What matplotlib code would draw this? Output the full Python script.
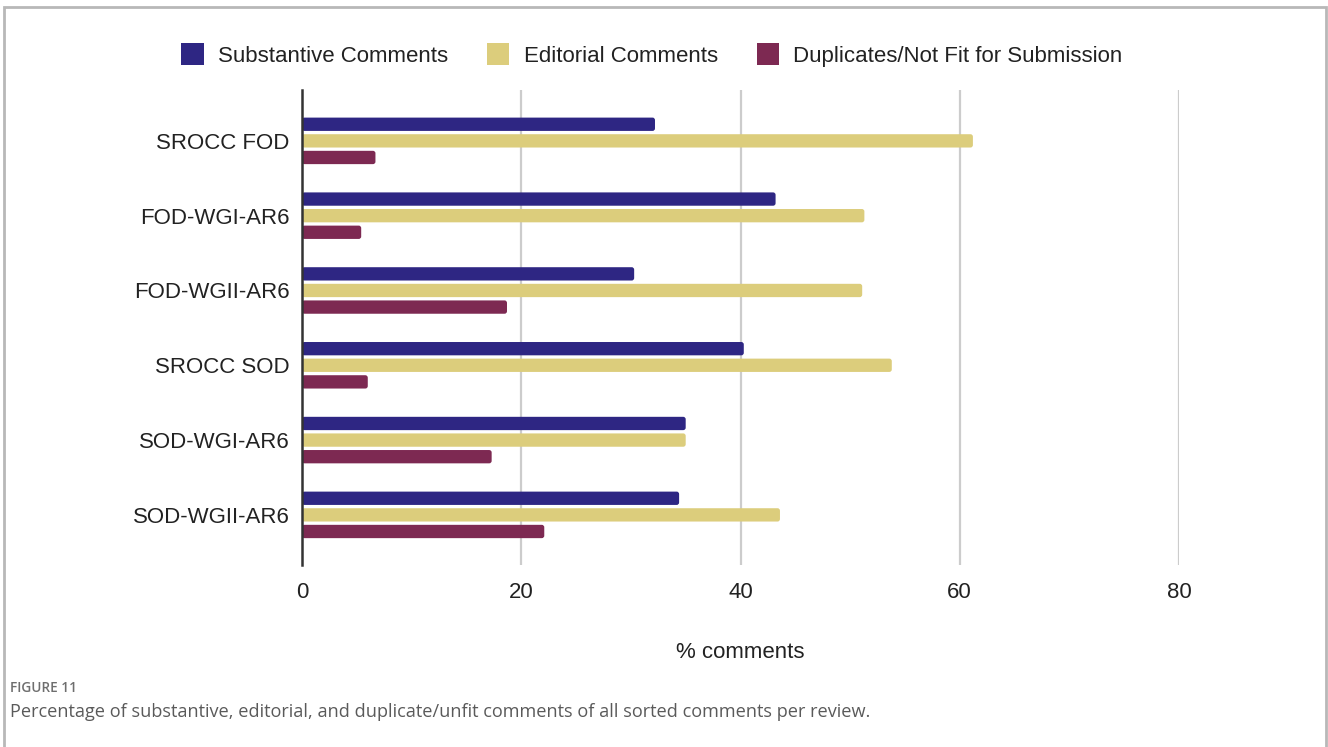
import matplotlib
matplotlib.use("Agg")
import matplotlib.pyplot as plt
import numpy as np
from matplotlib.patches import Rectangle, FancyBboxPatch

categories = ["SROCC FOD", "FOD-WGI-AR6", "FOD-WGII-AR6", "SROCC SOD", "SOD-WGI-AR6", "SOD-WGII-AR6"]
substantive = [32.2, 43.2, 30.3, 40.3, 35.0, 34.4]
editorial = [61.2, 51.3, 51.1, 53.8, 35.0, 43.6]
duplicates = [6.7, 5.4, 18.7, 6.0, 17.3, 22.1]
series_names = ["Substantive Comments", "Editorial Comments", "Duplicates/Not Fit for Submission"]
colors = ["#2e2683", "#dccd7c", "#7d2952"]
xticks = [0, 20, 40, 60, 80]

W, H = 1328, 747
fig = plt.figure(figsize=(W / 100, H / 100), dpi=100)
font = "Liberation Sans"
fs = 16

ax_l, ax_r, ax_t, ax_b = 302, 1179, 90, 565
ax = fig.add_axes([ax_l / W, 1 - ax_b / H, (ax_r - ax_l) / W, (ax_b - ax_t) / H])
y = np.arange(len(categories))
pitch = 0.222
bh = 0.178
xmax = 80
ymin, ymax = -0.68, len(categories) - 1 + 0.67
px_per_x = (ax_r - ax_l) / xmax
px_per_y = (ax_b - ax_t) / (ymax - ymin)

for i, (vals, c, name) in enumerate(zip([substantive, editorial, duplicates], colors, series_names)):
    bars = ax.barh(y + (i - 1) * pitch, vals, height=bh, color=c, label=name, zorder=3)
    for b in bars:
        b.set_visible(False)
        r = 2.5 / px_per_x
        fb = FancyBboxPatch((b.get_x(), b.get_y()), b.get_width(), b.get_height(),
                            boxstyle=f"round,pad=0,rounding_size={r}",
                            mutation_aspect=px_per_x / px_per_y,
                            facecolor=c, edgecolor="none", zorder=3)
        ax.add_patch(fb)

ax.set_xlim(0, xmax)
ax.set_ylim(ymax, ymin)
ax.set_yticks(y)
ax.set_yticklabels(categories, fontsize=fs, family=font)
ax.set_xticks(xticks)
ax.set_xticklabels([str(t) for t in xticks], fontsize=fs, family=font)
ax.tick_params(axis="both", length=0, colors="#222222")
ax.tick_params(axis="y", pad=9)
ax.tick_params(axis="x", pad=12)
for s in ["top", "right", "bottom"]:
    ax.spines[s].set_visible(False)
ax.spines["left"].set_color("#333333")
ax.spines["left"].set_linewidth(1.8)
ax.spines["left"].set_zorder(4)
for t in xticks[1:]:
    ax.axvline(t, color="#cccccc", lw=1.6, zorder=1)
ax.set_xlabel("% comments", fontsize=fs, family=font, color="#222222", labelpad=28)

handles = [Rectangle((0, 0), 1, 1, facecolor=c, edgecolor="none") for c in colors]
leg = fig.legend(handles, series_names, loc="center", bbox_to_anchor=(652 / W, 1 - 55 / H), ncol=3,
                 frameon=False, prop={"family": font, "size": fs}, handlelength=1.0, handleheight=1.1,
                 handletextpad=0.65, columnspacing=1.75)
for t in leg.get_texts():
    t.set_color("#222222")

# figure frame
fig.patches.append(Rectangle((4 / W, -0.05), (1326 - 4) / W, 1 - 7 / H + 0.05, transform=fig.transFigure,
                             fill=False, edgecolor="#b8b8b8", lw=2))

fig.text(10 / W, 1 - 688 / H, "FIGURE 11", fontsize=9.8, family="Open Sans", color="#6e6e6e",
         weight="semibold", va="center", ha="left")
fig.text(10 / W, 1 - 712 / H,
         "Percentage of substantive, editorial, and duplicate/unfit comments of all sorted comments per review.",
         fontsize=13.1, family="Open Sans", color="#5a5a5a", va="center", ha="left")

fig.savefig("out.png", dpi=100)
